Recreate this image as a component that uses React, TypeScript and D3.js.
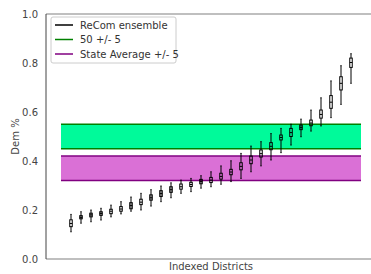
import * as d3 from "d3";

// per-district summary of the ReCom ensemble (sorted)
const districts = d3.range(1, 30);
const whiskerLow = [0.111, 0.146, 0.152, 0.159, 0.172, 0.184, 0.195, 0.2, 0.216, 0.234, 0.25, 0.268, 0.275, 0.289, 0.295, 0.305, 0.316, 0.329, 0.356, 0.38, 0.404, 0.434, 0.465, 0.499, 0.522, 0.543, 0.577, 0.631, 0.717];
const q1 = [0.132, 0.164, 0.172, 0.178, 0.185, 0.195, 0.205, 0.222, 0.24, 0.255, 0.272, 0.285, 0.296, 0.307, 0.312, 0.326, 0.344, 0.364, 0.389, 0.416, 0.446, 0.486, 0.5, 0.528, 0.544, 0.575, 0.615, 0.69, 0.782];
const median = [0.145, 0.17, 0.18, 0.186, 0.195, 0.204, 0.218, 0.232, 0.25, 0.267, 0.283, 0.295, 0.304, 0.316, 0.322, 0.337, 0.355, 0.378, 0.404, 0.43, 0.46, 0.496, 0.516, 0.537, 0.555, 0.59, 0.64, 0.717, 0.802];
const q3 = [0.16, 0.177, 0.187, 0.193, 0.203, 0.214, 0.23, 0.244, 0.262, 0.279, 0.295, 0.306, 0.313, 0.325, 0.333, 0.35, 0.366, 0.393, 0.42, 0.445, 0.475, 0.506, 0.533, 0.547, 0.567, 0.608, 0.667, 0.744, 0.82];
const whiskerHigh = [0.182, 0.193, 0.2, 0.207, 0.22, 0.234, 0.253, 0.268, 0.283, 0.298, 0.311, 0.322, 0.329, 0.34, 0.356, 0.38, 0.401, 0.431, 0.461, 0.479, 0.512, 0.533, 0.55, 0.571, 0.608, 0.658, 0.727, 0.789, 0.838];

const fiftyBand = [0.45, 0.55];
const stateBand = [0.32, 0.42];
const yTicks = [0, 0.2, 0.4, 0.6, 0.8, 1.0];

const legendItems = [
  { label: "ReCom ensemble", color: "#000000" },
  { label: "50 +/- 5", color: "#008000" },
  { label: "State Average +/- 5", color: "#800080" },
];

// boxes that render darker in the original
const shaded = new Set([2, 3, 4, 7, 9, 10, 11, 14, 24]);

const W = 371;
const H = 274;
const FONT = "DejaVu Sans, sans-serif";

export default function App() {
  const x = d3.scaleLinear().domain([-1.5, 31.5]).range([46, 376]);
  const y = d3.scaleLinear().domain([0, 1]).range([259, 14]);
  const boxW = x(0.25) - x(0);
  const capW = boxW / 2;

  const band = (b: number[], fill: string, edge: string) => (
    <g>
      <rect x={x(0)} y={y(b[1])} width={x(30) - x(0)} height={y(b[0]) - y(b[1])} fill={fill} />
      <line x1={x(0)} x2={x(30)} y1={y(b[1])} y2={y(b[1])} stroke={edge} strokeWidth={1.5} />
      <line x1={x(0)} x2={x(30)} y1={y(b[0])} y2={y(b[0])} stroke={edge} strokeWidth={1.5} />
    </g>
  );

  return (
    <svg width={W} height={H} style={{ position: "absolute", left: 0, top: 0, background: "#fff" }} fontFamily={FONT}>
      {band(fiftyBand, "#00FA9A", "#008000")}
      {band(stateBand, "#DA70D6", "#800080")}

      {districts.map((d, i) => {
        const cx = x(d);
        return (
          <g key={d} stroke="#000" strokeWidth={1} fill="none">
            <line x1={cx} x2={cx} y1={y(whiskerHigh[i])} y2={y(q3[i])} />
            <line x1={cx} x2={cx} y1={y(q1[i])} y2={y(whiskerLow[i])} />
            <line x1={cx - capW / 2} x2={cx + capW / 2} y1={y(whiskerHigh[i])} y2={y(whiskerHigh[i])} />
            <line x1={cx - capW / 2} x2={cx + capW / 2} y1={y(whiskerLow[i])} y2={y(whiskerLow[i])} />
            <rect
              x={cx - boxW / 2}
              y={y(q3[i])}
              width={boxW}
              height={y(q1[i]) - y(q3[i])}
              fill={shaded.has(d) ? "rgba(0,0,0,0.45)" : "none"}
            />
            <line x1={cx - boxW / 2} x2={cx + boxW / 2} y1={y(median[i])} y2={y(median[i])} />
          </g>
        );
      })}

      {/* spines */}
      <line x1={46} x2={W} y1={14} y2={14} stroke="#aaa" strokeWidth={1.3} />
      <line x1={46} x2={W} y1={259} y2={259} stroke="#aaa" strokeWidth={1.3} />
      <line x1={46} x2={46} y1={14} y2={259} stroke="#444" strokeWidth={1} />

      {yTicks.map((t) => (
        <text key={t} x={38} y={y(t)} dy="0.35em" textAnchor="end" fontSize={10} fill="#444">
          {t.toFixed(1)}
        </text>
      ))}

      <text transform={`translate(15,${(14 + 259) / 2}) rotate(-90)`} textAnchor="middle" dy="0.35em" fontSize={10} fill="#444">
        Dem %
      </text>
      <text x={211} y={270} textAnchor="middle" fontSize={10} fill="#444">
        Indexed Districts
      </text>

      {/* legend */}
      <rect x={51} y={17} width={125} height={46} rx={2} fill="#fff" fillOpacity={0.8} stroke="#ccc" strokeWidth={1} />
      {legendItems.map((it, i) => (
        <g key={it.label} transform={`translate(0,${25 + i * 14.5})`}>
          <line x1={55} x2={73} y1={0} y2={0} stroke={it.color} strokeWidth={1.5} />
          <text x={80} y={0} dy="0.35em" fontSize={10} fill="#333">
            {it.label}
          </text>
        </g>
      ))}
    </svg>
  );
}
